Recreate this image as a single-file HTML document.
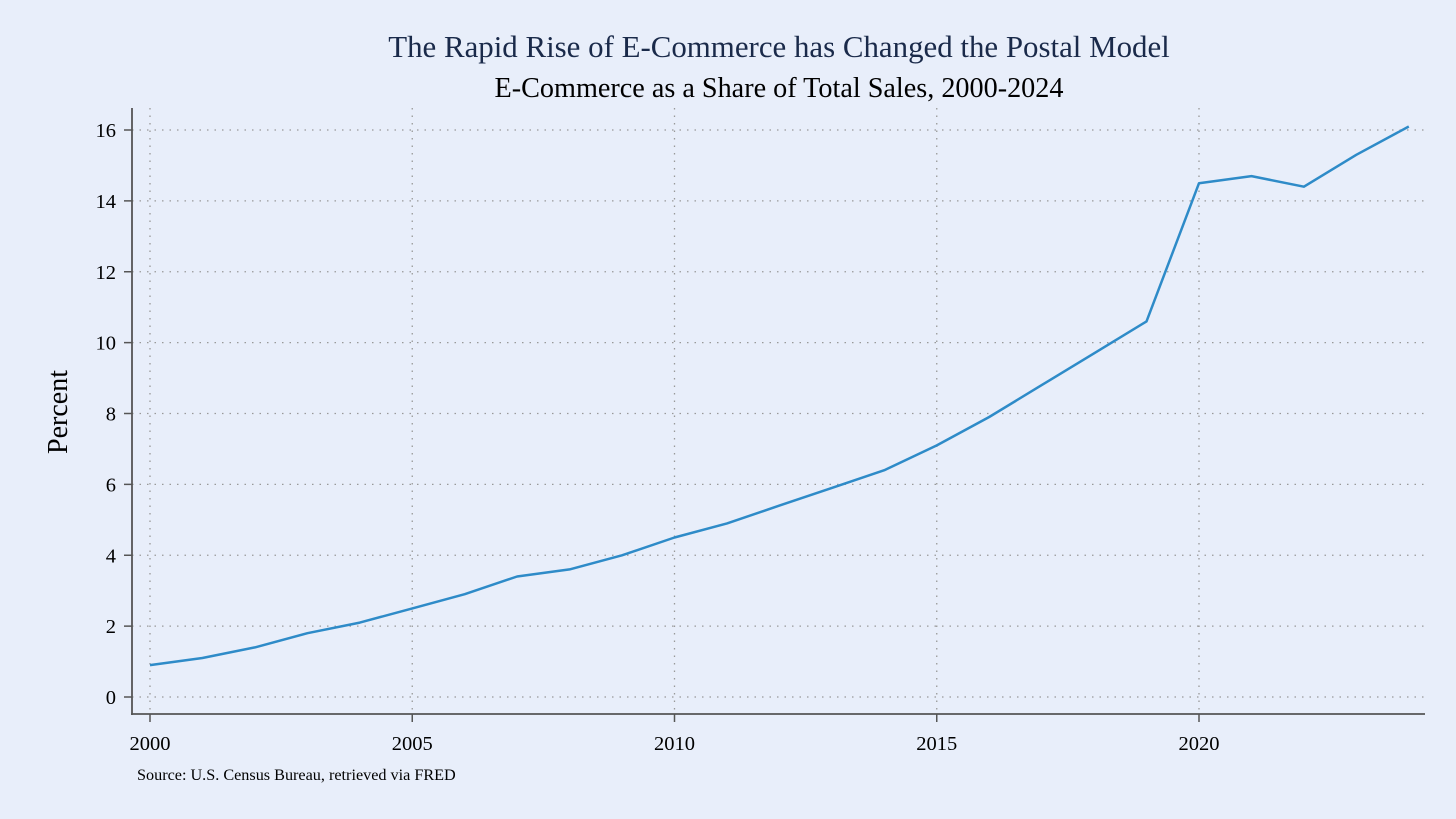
<!DOCTYPE html>
<html><head><meta charset="utf-8">
<style>
html,body{margin:0;padding:0;background:#e8eefa;}
svg{display:block;font-family:"Liberation Serif",serif;}
</style></head>
<body>
<svg id="chart" width="1456" height="819" viewBox="0 0 1456 819">
<rect width="1456" height="819" fill="#e8eefa"/>
<text x="779" y="57" text-anchor="middle" font-size="30.9" fill="#1a2a4a">The Rapid Rise of E-Commerce has Changed the Postal Model</text>
<text x="779" y="97" text-anchor="middle" font-size="28.2" fill="#000">E-Commerce as a Share of Total Sales, 2000-2024</text>
<text transform="translate(67,412) rotate(-90)" text-anchor="middle" font-size="28" fill="#000">Percent</text>
<text x="137" y="780" font-size="16.2" fill="#000">Source: U.S. Census Bureau, retrieved via FRED</text>
<g id="grid"></g>
<g id="axes"></g>
<path id="line" fill="none" stroke="#2e8bc8" stroke-width="2.5" stroke-linejoin="round"/>
</svg>
<script>
const years = [2000,2001,2002,2003,2004,2005,2006,2007,2008,2009,2010,2011,2012,2013,2014,2015,2016,2017,2018,2019,2020,2021,2022,2023,2024];
const shareValues = [0.9,1.1,1.4,1.8,2.1,2.5,2.9,3.4,3.6,4.0,4.5,4.9,5.4,5.9,6.4,7.1,7.9,8.8,9.7,10.6,14.5,14.7,14.4,15.3,16.1];
const xTicks = [2000,2005,2010,2015,2020];
const yTicks = [0,2,4,6,8,10,12,14,16];

const NS = "http://www.w3.org/2000/svg";
function xScale(v){ return 150 + (v - 2000) * (1199 - 150) / 20; }
function yScale(v){ return 697 - v * (697 - 130) / 16; }
function mk(tag, attrs, parent){
  const e = document.createElementNS(NS, tag);
  for (const k in attrs) e.setAttribute(k, attrs[k]);
  parent.appendChild(e);
  return e;
}
const grid = document.getElementById('grid');
const axes = document.getElementById('axes');

yTicks.forEach(t => {
  const y = yScale(t);
  const g = mk('line', {x1:132, x2:1425, y1:y, y2:y, stroke:'#999', 'stroke-width':1.3, 'stroke-dasharray':'1.5 6'}, grid);
  
  
  const tk = mk('line', {x1:124, x2:132, y1:y, y2:y, stroke:'#555', 'stroke-width':1.5}, axes);
  
  
  const lb = mk('text', {x:116, y:y+7, 'text-anchor':'end', 'font-size':20.5, fill:'#000'}, axes);
  lb.textContent = t;
  
  
});
xTicks.forEach(t => {
  const x = xScale(t);
  const g = mk('line', {x1:x, x2:x, y1:108, y2:714, stroke:'#999', 'stroke-width':1.3, 'stroke-dasharray':'1.5 6'}, grid);
  
  
  const tk = mk('line', {x1:x, x2:x, y1:714, y2:722, stroke:'#555', 'stroke-width':1.5}, axes);
  
  
  const lb = mk('text', {x:x, y:750, 'text-anchor':'middle', 'font-size':20.5, fill:'#000'}, axes);
  lb.textContent = t;
  
  
});
const ya = mk('line', {x1:132, x2:132, y1:108, y2:715, stroke:'#555', 'stroke-width':1.8}, axes);


const xa = mk('line', {x1:131, x2:1425, y1:714, y2:714, stroke:'#555', 'stroke-width':1.8}, axes);



document.getElementById('line').setAttribute('d',
  years.map((yr, i) => (i ? 'L' : 'M') + xScale(yr).toFixed(1) + ',' + yScale(shareValues[i]).toFixed(1)).join(' '));
</script>
</body></html>
